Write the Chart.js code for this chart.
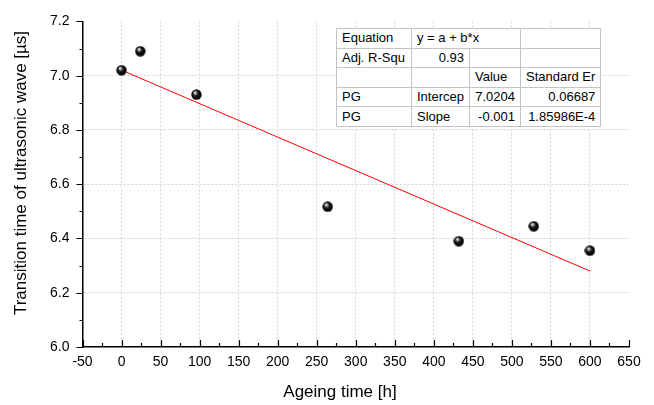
<!DOCTYPE html>
<html>
<head>
<meta charset="utf-8">
<script src="https://cdn.jsdelivr.net/npm/chart.js@4"></script>
<style>
  html, body { margin: 0; padding: 0; background: #ffffff; }
  #wrap { position: relative; width: 654px; height: 405px; }
  canvas { display: block; }
  #fit {
    position: absolute; left: 336px; top: 28px;
    border-collapse: collapse; background: #ffffff;
    font-family: "Liberation Sans", Arial, sans-serif; font-size: 13px; color: #000;
    border: 1.5px solid #8a8a8a; table-layout: fixed;
  }
  #fit td {
    border: 1px solid #c4c4c4; height: 18.6px; padding: 0 5px; white-space: nowrap;
    overflow: hidden; line-height: 18px;
  }
  #fit td.r { text-align: right; }
</style>
</head>
<body>
<div id="wrap">
  <canvas id="c" width="654" height="405"></canvas>
  <table id="fit">
    <colgroup><col style="width:75px"><col style="width:56px"><col style="width:51px"><col style="width:79px"></colgroup>
    <tr><td>Equation</td><td colspan="2">y = a + b*x</td><td></td></tr>
    <tr><td>Adj. R-Squ</td><td class="r">0.93</td><td></td><td></td></tr>
    <tr><td></td><td></td><td>Value</td><td>Standard Er</td></tr>
    <tr><td>PG</td><td>Intercep</td><td class="r">7.0204</td><td class="r">0.06687</td></tr>
    <tr><td>PG</td><td>Slope</td><td class="r">-0.001</td><td class="r">1.85986E-4</td></tr>
  </table>
</div>
<script>
// ---- data ----
const ageingHours = [0, 24, 96, 264, 432, 528, 600];
const transitionTimes = [7.02, 7.09, 6.93, 6.517, 6.39, 6.445, 6.355];
const fitHours = [0, 600];
const fitValues = [7.0204, 6.28];
const xTitle = "Ageing time [h]";
const yTitle = "Transition time of ultrasonic wave [µs]";

// sphere marker
function makeSphere(d) {
  const c = document.createElement('canvas');
  c.width = d; c.height = d;
  const g = c.getContext('2d');
  const r = d / 2;
  const grad = g.createRadialGradient(r * 0.7, r * 0.58, 0.2, r, r, r);
  grad.addColorStop(0, '#ffffff');
  grad.addColorStop(0.2, '#a0a0a0');
  grad.addColorStop(0.45, '#1a1a1a');
  grad.addColorStop(0.85, '#000000');
  grad.addColorStop(1, '#333333');
  g.fillStyle = grad;
  g.beginPath(); g.arc(r, r, r - 0.3, 0, Math.PI * 2); g.fill();
  return c;
}
const sphere = makeSphere(11);

const FONT = "'Liberation Sans', Arial, sans-serif";

const tickPlugin = {
  id: 'ticksAndTitles',
  afterDraw(chart) {
    const ctx = chart.ctx;
    const xs = chart.scales.x, ys = chart.scales.y;
    const area = chart.chartArea;
    ctx.save();
    ctx.strokeStyle = '#000';
    ctx.lineWidth = 1.2;
    ctx.beginPath();
    for (let v = -50; v <= 650; v += 25) {
      const px = Math.round(xs.getPixelForValue(v)) + 0.5;
      const len = (v % 50 === 0) ? 7 : 4;
      ctx.moveTo(px, area.bottom); ctx.lineTo(px, area.bottom - len);
    }
    for (let i = 0; i <= 12; i++) {
      const v = 6.0 + i * 0.1;
      const py = Math.round(ys.getPixelForValue(v)) + 0.5;
      const len = (i % 2 === 0) ? 6 : 3;
      ctx.moveTo(area.left, py); ctx.lineTo(area.left - len, py);
    }
    ctx.stroke();
    ctx.fillStyle = '#000';
    ctx.font = '17px ' + FONT;
    ctx.textAlign = 'center';
    ctx.textBaseline = 'middle';
    ctx.fillText(xTitle, 340, 392);
    ctx.translate(21, 173);
    ctx.rotate(-Math.PI / 2);
    ctx.fillText(yTitle, 0, 0);
    ctx.restore();
  }
};

new Chart(document.getElementById('c'), {
  type: 'scatter',
  data: {
    datasets: [
      {
        label: 'fit',
        type: 'line',
        data: fitHours.map((x, i) => ({ x: x, y: fitValues[i] })),
        borderColor: '#ff0000',
        borderWidth: 1,
        pointRadius: 0,
        fill: false,
        order: 2
      },
      {
        label: 'PG',
        data: ageingHours.map((x, i) => ({ x: x, y: transitionTimes[i] })),
        pointStyle: sphere,
        pointRadius: 5.5,
        order: 1
      }
    ]
  },
  options: {
    responsive: false,
    animation: false,
    devicePixelRatio: 1,
    layout: { padding: { left: 0, right: 25, top: 16, bottom: 0 } },
    plugins: { legend: { display: false }, tooltip: { enabled: false } },
    scales: {
      x: {
        type: 'linear', min: -50, max: 650,
        ticks: { stepSize: 50, color: '#000', font: { size: 14, family: FONT }, padding: 7, maxRotation: 0 },
        grid: {
          drawTicks: false,
          color: (c) => (c.tick && (c.tick.value === -50 || c.tick.value === 650)) ? 'rgba(0,0,0,0)' : '#d2d2d2',
          lineWidth: 1
        },
        border: { display: true, color: '#000', width: 1.5, dash: [2, 2] },
        afterFit: (s) => { s.height = 58; }
      },
      y: {
        type: 'linear', min: 6.0, max: 7.2,
        ticks: { stepSize: 0.2, color: '#000', font: { size: 14, family: FONT }, padding: 13,
                 callback: (v) => Number(v).toFixed(1) },
        grid: {
          drawTicks: false,
          color: (c) => (c.tick && (Math.abs(c.tick.value - 6.0) < 1e-6 || Math.abs(c.tick.value - 7.2) < 1e-6)) ? 'rgba(0,0,0,0)' : '#d2d2d2',
          lineWidth: 1
        },
        border: { display: true, color: '#000', width: 1.5, dash: [2, 2] },
        afterFit: (s) => { s.width = 82.5; }
      }
    }
  },
  plugins: [tickPlugin]
});
</script>
</body>
</html>
